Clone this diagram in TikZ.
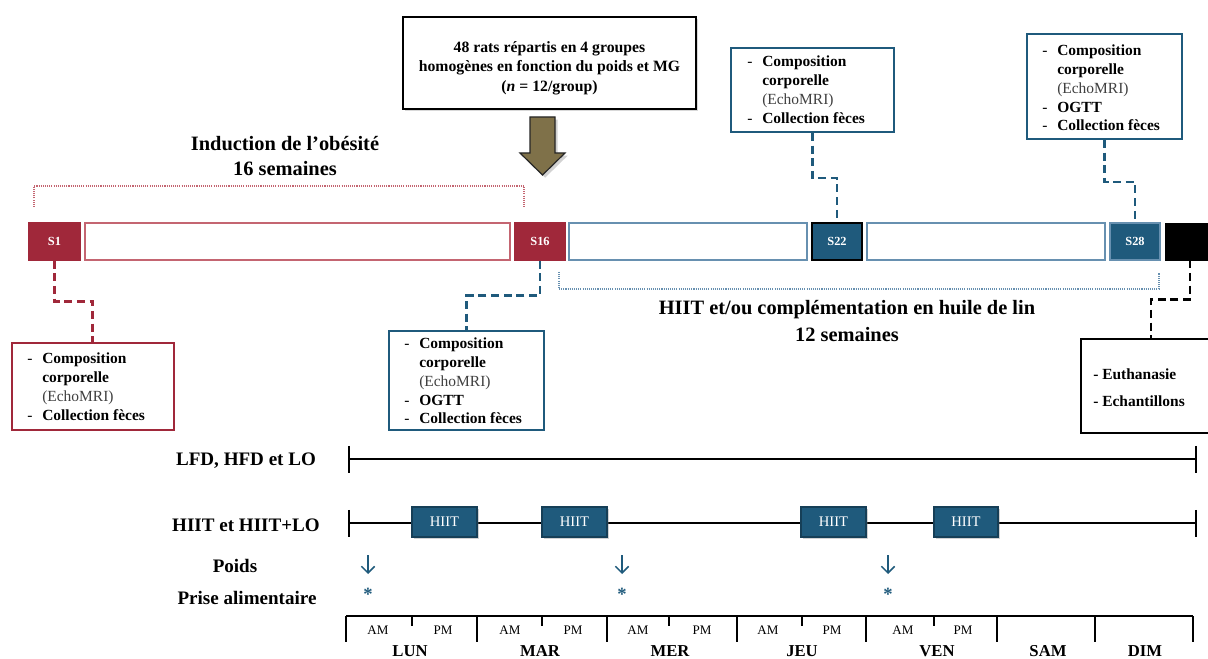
\documentclass[tikz,border=0pt]{standalone}
\usepackage{fontspec}
\setmainfont{Liberation Serif}
\usetikzlibrary{fit,shadows,arrows.meta}
\definecolor{cred}{HTML}{A0283A}
\definecolor{credl}{HTML}{C46571}
\definecolor{cblue}{HTML}{1F5A7C}
\definecolor{cbluel}{HTML}{6790B0}
\definecolor{colive}{HTML}{7F7149}
\definecolor{cgray}{HTML}{404040}
\begin{document}
\begin{tikzpicture}[x=0.75pt,y=-0.75pt,
  sboxR/.style={fill=cred, draw=cred, line width=0.8pt, inner sep=0pt},
  sboxB/.style={fill=cblue, draw=cblue, line width=0.8pt, inner sep=0pt},
  slab/.style={text=white, font=\fontsize{9.3}{10}\selectfont\bfseries},
  obR/.style={draw=credl, line width=1.2pt, inner sep=0pt, fill=white},
  obB/.style={draw=cbluel, line width=1.2pt, inner sep=0pt, fill=white},
  tbox/.style={draw=#1, line width=1.5pt, inner sep=0pt, fill=white},
  lst/.style={inner sep=0pt, font=\fontsize{11.6}{14.06}\selectfont\bfseries},
  big/.style={inner sep=0pt, align=center, font=\fontsize{15.3}{19}\selectfont\bfseries},
  rowl/.style={inner sep=0pt, font=\fontsize{14.3}{16}\selectfont\bfseries},
  conR/.style={draw=cred, line width=1.9pt, dash pattern=on 6pt off 3.5pt},
  conB/.style={draw=cblue, line width=1.9pt, dash pattern=on 6pt off 3.5pt},
  conK/.style={draw=black, line width=1.9pt, dash pattern=on 6pt off 3.5pt},
  tl/.style={draw=black, line width=1.5pt},
  hiit/.style={fill=cblue, draw=cblue!70!black, line width=0.8pt, inner sep=0pt,
     drop shadow={shadow xshift=1.2pt, shadow yshift=-1.5pt, opacity=0.35}},
  hlab/.style={text=white, font=\fontsize{11}{12}\selectfont},
  parrow/.style={draw=cblue, line width=1.1pt, -{Straight Barb[length=5pt,width=10pt]}},
  asty/.style={inner sep=0pt, text=cblue, font=\fontsize{14}{14}\selectfont\bfseries},
  ampm/.style={inner sep=0pt, font=\fontsize{9.8}{10}\selectfont},
  dayl/.style={inner sep=0pt, font=\fontsize{12.5}{13}\selectfont\bfseries}
]
\path[use as bounding box] (0,0) rectangle (1208,659);
\clip (0,0) rectangle (1208,659);
\fill[white] (0,0) rectangle (1208,659);

% ---- top box and olive arrow
\node[tbox=black, fit={(403,17) (696,109)},
  drop shadow={shadow xshift=1.5pt, shadow yshift=-1.5pt, opacity=0.3}] (top) {};
\node[inner sep=0pt, align=center, font=\fontsize{11.8}{14.6}\selectfont\bfseries] (toptxt) at (549.5,68)
  {48 rats répartis en 4 groupes\\homogènes en fonction du poids et MG\\(\textit{n} = 12/group)};
\draw[draw=black!85, fill=colive, line width=0.9pt,
  drop shadow={shadow xshift=2pt, shadow yshift=-2pt, opacity=0.35}]
  (530,117) -- (555,117) -- (555,153) -- (565,153) -- (542.5,175) -- (520,153) -- (530,153) -- cycle;

% ---- phase labels and brackets
\node[big] (ind) at (285,156) {Induction de l’obésité\\16 semaines};
\draw[draw=credl, line width=0.8pt, dash pattern=on 0.8pt off 0.8pt]
  (34,207) -- (34,186) -- (524,186) -- (524,207);
\draw[draw=cbluel, line width=0.8pt, dash pattern=on 0.8pt off 0.8pt]
  (559,272) -- (559,289) -- (1159,289) -- (1159,273);
\node[big, font=\fontsize{15.3}{20}\selectfont\bfseries] (hl) at (847,321)
  {HIIT et/ou complémentation en huile de lin\\12 semaines};

% ---- timeline
\node[sboxR, fit={(29,223) (80,260)}, label={[slab]center:S1}] (s1) {};
\node[obR, fit={(85,223) (510,260)}] (r1) {};
\node[sboxR, fit={(515,223) (565,260)}, label={[slab]center:S16}] (s16) {};
\node[obB, fit={(569,223) (807,260)}] (r2) {};
\node[sboxB, draw=black, fit={(812,223) (862,260)}, label={[slab]center:S22}] (s22) {};
\node[obB, fit={(867,223) (1105,260)}] (r3) {};
\node[sboxB, draw=cbluel, fit={(1110,223) (1160,260)}, label={[slab]center:S28}] (s28) {};
\node[fill=black, draw=black, inner sep=0pt, fit={(1165,223) (1215,260)}] (sk) {};

% ---- info boxes
\node[tbox=cred, fit={(11.5,343) (174,430)}] (b1) {};
\node[tbox=cblue, fit={(389,331) (544,430)}] (b16) {};
\node[tbox=cblue, fit={(731,48) (894,132)}] (b22) {};
\node[tbox=cblue, fit={(1027,34) (1182,139)}] (b28) {};
\node[tbox=black, fit={(1081,339) (1221,433)}] (be) {};

\node[lst, anchor=base west] (t1) at (27,364) {\begin{tabular}[t]{@{}p{11.25pt}@{}l@{}}
\textmd{-}&Composition\\&corporelle\\&\textmd{\textcolor{cgray}{(EchoMRI)}}\\\textmd{-}&Collection fèces\end{tabular}};
\node[lst, anchor=base west] (t16) at (404,349) {\begin{tabular}[t]{@{}p{11.25pt}@{}l@{}}
\textmd{-}&Composition\\&corporelle\\&\textmd{\textcolor{cgray}{(EchoMRI)}}\\\textmd{-}&OGTT\\\textmd{-}&Collection fèces\end{tabular}};
\node[lst, anchor=base west] (t22) at (747,67) {\begin{tabular}[t]{@{}p{11.25pt}@{}l@{}}
\textmd{-}&Composition\\&corporelle\\&\textmd{\textcolor{cgray}{(EchoMRI)}}\\\textmd{-}&Collection fèces\end{tabular}};
\node[lst, anchor=base west] (t28) at (1042,56) {\begin{tabular}[t]{@{}p{11.25pt}@{}l@{}}
\textmd{-}&Composition\\&corporelle\\&\textmd{\textcolor{cgray}{(EchoMRI)}}\\\textmd{-}&OGTT\\\textmd{-}&Collection fèces\end{tabular}};
\node[lst, anchor=west, align=left, font=\fontsize{11.6}{20.5}\selectfont\bfseries] (te) at (1093,388)
  {- Euthanasie\\- Echantillons};

% ---- dashed connectors
\draw[conR] (s1.south) -- ++(0,41) -| (b1.north);
\draw[conB] (s16.south) -- ++(0,35) -| (b16.north);
\draw[conB] (b22.south) -- ++(0,45) -| (s22.north);
\draw[conB] (b28.south) -- ++(0,42) -| (s28.north);
\draw[conK] (sk.south) -- ++(0,39) -| (be.north);

% ---- weekly schedule
\node[rowl] (lab1) at (246,461) {LFD, HFD et LO};
\node[rowl] (lab2) at (246,525) {HIIT et HIIT+LO};
\node[rowl] (lab3) at (235,566) {Poids};
\node[rowl] (lab4) at (247,598) {Prise alimentaire};

\coordinate (l0) at (349,459); \coordinate (l1) at (1196,459);
\draw[tl] (l0) -- (l1);
\draw[tl] (349,446) -- (349,473);
\draw[tl] (1196,446) -- (1196,473);

\coordinate (h0) at (349,523); \coordinate (h1) at (1196,523);
\draw[tl] (h0) -- (h1);
\draw[tl] (349,510) -- (349,537);
\draw[tl] (1196,510) -- (1196,537);
\foreach \a/\b [count=\i] in {412/477,542/607,801/866,934/998}
  \node[hiit, fit={(\a,507) (\b,537)}, label={[hlab]center:HIIT}] (hi\i) {};

\foreach \x [count=\i] in {368,622,888} {
  \coordinate (pa\i) at (\x,555);
  \coordinate (pb\i) at (\x,574);
  \draw[parrow] (pa\i) -- (pb\i);
  \node[asty] (st\i) at (\x,594) {*};
}

\coordinate (sc0) at (346,616); \coordinate (sc1) at (1193,616);
\draw[tl] (sc0) -- (sc1);
\foreach \x in {346,477,607,737,866,997,1095,1193}
  \draw[tl] (\x,616) -- (\x,642);
\foreach \x in {412,542,669,802,934}
  \draw[tl] (\x,616) -- (\x,626);
\foreach \x [count=\i] in {378,510,638,768,903}
  \node[ampm] (am\i) at (\x,630) {AM};
\foreach \x [count=\i] in {443,573,702,832,963}
  \node[ampm] (pm\i) at (\x,630) {PM};
\foreach \x/\t [count=\i] in {410/LUN,540/MAR,670/MER,802/JEU,937/VEN,1048/SAM,1145/DIM}
  \node[dayl] (d\i) at (\x,651) {\t};
\end{tikzpicture}
\end{document}
